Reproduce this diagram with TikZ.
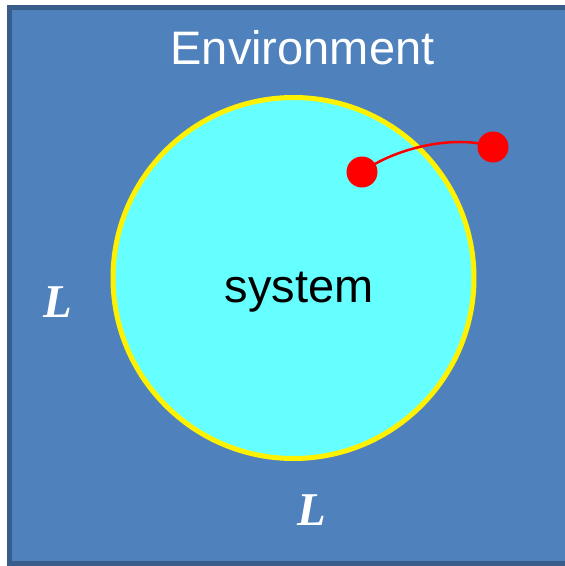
\documentclass[tikz,border=0pt]{standalone}
\usepackage{fontspec}
\setmainfont{Liberation Sans}
\newfontfamily\lenfont{Liberation Serif}
\definecolor{env}{HTML}{4F81BD}
\definecolor{envline}{HTML}{385D8A}
\definecolor{sysfill}{HTML}{66FFFF}
\tikzset{
  envbox/.style={draw=envline,fill=env,line width=5pt},
  sysdisc/.style={circle,draw=yellow,fill=sysfill,line width=5pt,minimum size=361pt,inner sep=0pt},
  particle/.style={circle,fill=red,minimum size=31pt,inner sep=0pt},
  big/.style={font=\fontsize{47}{50}\selectfont,inner sep=0pt},
  lenlab/.style={font=\lenfont\bfseries\itshape\fontsize{47}{50}\selectfont,text=white,inner sep=0pt},
  link/.style={draw=red,line width=2.5pt},
}
\begin{document}
\begin{tikzpicture}[x=1pt,y=-1pt]
\useasboundingbox (0,0) rectangle (565,566);
\draw[envbox] (9.5,7.5) rectangle (580,563.5);
\node[sysdisc] (disc) at (293.5,278) {};
\node[big,text=white,anchor=base] (envname) at (302.5,64) {Environment};
\node[big,anchor=base] (sysname) at (299,302) {system};
\node[lenlab,anchor=base] (len1) at (58,317) {L};
\node[lenlab,anchor=base] (len2) at (312,525) {L};
\node[particle] (p1) at (362,172) {};
\node[particle] (p2) at (493,147) {};
\draw[link] (p1.center) .. controls (400,145) and (460,135) .. (p2.center);
\end{tikzpicture}
\end{document}
